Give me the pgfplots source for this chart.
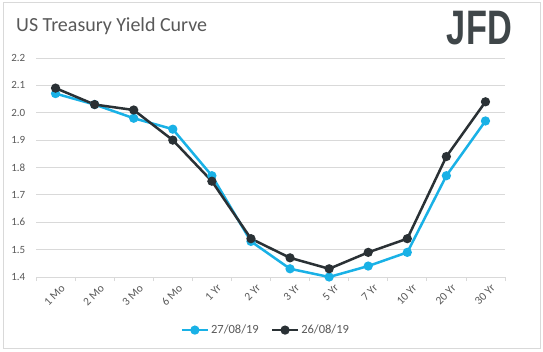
\documentclass[border=0pt]{standalone}
\usepackage{pgfplots}
\pgfplotsset{compat=1.18}
\usepackage{fontspec}
\setmainfont{Carlito}
\newfontfamily\logofont{Liberation Sans}
\definecolor{lblue}{HTML}{19B1E6}
\definecolor{dgray}{HTML}{2A3135}
\definecolor{txt}{HTML}{595959}
\definecolor{gridc}{HTML}{D9D9D9}
\begin{document}
\begin{tikzpicture}[x=1pt,y=1pt]
\useasboundingbox (0,0) rectangle (543,351);
\fill[white] (0,0) rectangle (543,351);
\draw[gridc,line width=1pt] (3,3) rectangle (540,348);
\node[anchor=west,text=txt,font=\fontsize{20}{22}\selectfont,inner sep=0] at (16,325) {US Treasury Yield Curve};
\node[anchor=east,text=dgray!90!white,inner sep=0] at (512,323) {\scalebox{0.78}[1.1]{\logofont\bfseries\fontsize{44}{44}\selectfont JFD}};
\begin{axis}[
  at={(36pt,74pt)}, anchor=south west,
  scale only axis, width=469pt, height=219pt,
  xmin=-0.5, xmax=11.5, ymin=1.4, ymax=2.2,
  ytick={1.4,1.5,...,2.21},
  /pgf/number format/fixed,
  /pgf/number format/fixed zerofill,
  /pgf/number format/precision=1,
  /pgf/number format/assume math mode=true,
  yticklabel style={text=txt,font=\fontsize{11}{12}\selectfont,xshift=-3pt},
  ymajorgrids, grid style={gridc,line width=0.8pt},
  axis x line*=bottom, axis y line*=left,
  y axis line style={draw=none},
  major y tick style={draw=none},
  x axis line style={gridc,line width=0.8pt,-},
  xtick={0,...,11},
  xticklabels={1 Mo,2 Mo,3 Mo,6 Mo,1 Yr,2 Yr,3 Yr,5 Yr,7 Yr,10 Yr,20 Yr,30 Yr},
  xticklabel style={rotate=45,anchor=north east,text=txt,font=\fontsize{11.5}{12}\selectfont,inner sep=1pt,xshift=3pt,yshift=-4pt},
  major x tick style={draw=none},
  minor xtick={-0.5,0.5,...,11.5},
  minor x tick style={gridc,line width=0.8pt},
  minor tick length=4pt,
  tick align=outside,
  legend style={at={(0.49,-0.2)},anchor=north,draw=none,legend columns=2,font=\fontsize{12.5}{13}\selectfont,text=txt,/tikz/every even column/.append style={column sep=10pt}},
  legend image code/.code={\draw[#1,line width=2.5pt] (0pt,0pt) -- (26pt,0pt); \fill[#1] (13pt,0pt) circle (3.3pt);},
]
\addplot[lblue,line width=2.5pt,mark=*,mark size=3.3pt,mark options={lblue}] coordinates {
(0,2.07)(1,2.03)(2,1.98)(3,1.94)(4,1.77)(5,1.53)(6,1.43)(7,1.40)(8,1.44)(9,1.49)(10,1.77)(11,1.97)};
\addlegendentry{27/08/19}
\addplot[dgray,line width=2.5pt,mark=*,mark size=3.3pt,mark options={dgray}] coordinates {
(0,2.09)(1,2.03)(2,2.01)(3,1.90)(4,1.75)(5,1.54)(6,1.47)(7,1.43)(8,1.49)(9,1.54)(10,1.84)(11,2.04)};
\addlegendentry{26/08/19}
\end{axis}
\end{tikzpicture}
\end{document}
